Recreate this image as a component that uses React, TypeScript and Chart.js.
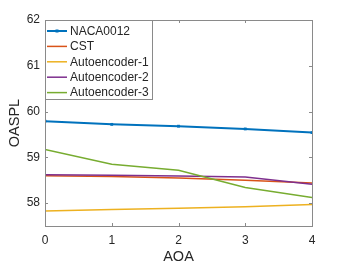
import React, { useEffect, useRef } from "react";
import { Chart, registerables } from "chart.js";

Chart.register(...registerables);

const aoa = [0, 1, 2, 3, 4];
const naca0012 = [59.79, 59.72, 59.68, 59.62, 59.54];
const cst = [58.6, 58.58, 58.55, 58.5, 58.44];
const autoencoder1 = [57.83, 57.86, 57.89, 57.92, 57.97];
const autoencoder2 = [58.62, 58.61, 58.59, 58.57, 58.41];
const autoencoder3 = [59.17, 58.85, 58.72, 58.34, 58.12];
const seriesNames = ["NACA0012", "CST", "Autoencoder-1", "Autoencoder-2", "Autoencoder-3"];
const seriesColors = ["#0072BD", "#D95319", "#EDB120", "#7E2F8E", "#77AC30"];
const yTicks = [58, 59, 60, 61, 62];
const xTicks = [0, 1, 2, 3, 4];

const FONT = "'Liberation Sans', Arial, sans-serif";
const TEXT = "#262626";
const AXIS = "#8a8a8a";

const boxPlugin = {
  id: "matlabBox",
  afterDraw(chart: any) {
    const { ctx, chartArea: a, scales } = chart;
    ctx.save();
    ctx.strokeStyle = AXIS;
    ctx.lineWidth = 1;
    ctx.strokeRect(Math.round(a.left) + 0.5, Math.round(a.top) + 0.5, Math.round(a.right - a.left), Math.round(a.bottom - a.top));
    const tl = 3;
    ctx.beginPath();
    for (const v of xTicks) {
      const x = Math.round(scales.x.getPixelForValue(v)) + 0.5;
      ctx.moveTo(x, a.bottom);
      ctx.lineTo(x, a.bottom - tl);
      ctx.moveTo(x, a.top);
      ctx.lineTo(x, a.top + tl);
    }
    for (const v of yTicks) {
      const y = Math.round(scales.y.getPixelForValue(v)) + 0.5;
      ctx.moveTo(a.left, y);
      ctx.lineTo(a.left + tl, y);
      ctx.moveTo(a.right, y);
      ctx.lineTo(a.right - tl, y);
    }
    ctx.stroke();

    // legend inside plot, top-left
    const lx = Math.round(a.left) + 0.5;
    const ly = Math.round(a.top) + 0.5;
    const lw = 107;
    const lh = 79;
    ctx.fillStyle = "#ffffff";
    ctx.fillRect(lx, ly, lw, lh);
    ctx.strokeStyle = AXIS;
    ctx.strokeRect(lx, ly, lw, lh);
    ctx.font = `12px ${FONT}`;
    ctx.textBaseline = "middle";
    ctx.textAlign = "left";
    seriesNames.forEach((name, i) => {
      const y = a.top + 11 + i * 15.4;
      ctx.strokeStyle = seriesColors[i];
      ctx.lineWidth = i === 0 ? 2 : 1.5;
      ctx.beginPath();
      ctx.moveTo(a.left + 2, y);
      ctx.lineTo(a.left + 22, y);
      ctx.stroke();
      if (i === 0) {
        ctx.fillStyle = seriesColors[0];
        ctx.fillRect(a.left + 10.5, y - 1.5, 3, 3);
      }
      ctx.fillStyle = TEXT;
      ctx.fillText(name, a.left + 25, y + 0.5);
    });
    ctx.restore();
  },
};

export default function App() {
  const ref = useRef<HTMLCanvasElement>(null);
  useEffect(() => {
    const series = [naca0012, cst, autoencoder1, autoencoder2, autoencoder3];
    const chart = new Chart(ref.current!, {
      type: "line",
      data: {
        datasets: series.map((vals, i) => ({
          label: seriesNames[i],
          data: aoa.map((x, j) => ({ x, y: vals[j] })),
          borderColor: seriesColors[i],
          backgroundColor: seriesColors[i],
          borderWidth: i === 0 ? 2 : 1.5,
          pointRadius: i === 0 ? 2 : 0,
          pointStyle: "rect",
          pointBorderWidth: 0,
          tension: 0,
          order: 5 - i,
        })),
      },
      options: {
        animation: false,
        responsive: false,
        layout: { padding: { top: 20, right: 33, left: 0, bottom: 0 } },
        plugins: { legend: { display: false }, tooltip: { enabled: false } },
        scales: {
          x: {
            type: "linear",
            min: 0,
            max: 4,
            afterBuildTicks: (s: any) => {
              s.ticks = xTicks.map((v) => ({ value: v }));
            },
            afterFit: (s: any) => {
              s.height = 41;
            },
            grid: { display: false, drawTicks: false },
            border: { display: false },
            ticks: { color: TEXT, font: { family: FONT, size: 12 }, padding: 7, maxRotation: 0 },
            title: { display: true, text: "AOA", color: TEXT, font: { family: FONT, size: 14.5 }, padding: { top: 1, bottom: 1 } },
          },
          y: {
            type: "linear",
            min: 57.5,
            max: 62,
            afterBuildTicks: (s: any) => {
              s.ticks = yTicks.map((v) => ({ value: v }));
            },
            afterFit: (s: any) => {
              s.width = 45;
            },
            grid: { display: false, drawTicks: false },
            border: { display: false },
            ticks: { color: TEXT, font: { family: FONT, size: 12 }, padding: 5 },
            title: { display: true, text: "OASPL", color: TEXT, font: { family: FONT, size: 14.5 }, padding: { top: 6, bottom: 6 } },
          },
        },
      },
      plugins: [boxPlugin],
    } as any);
    return () => chart.destroy();
  }, []);
  return (
    <div style={{ position: "fixed", left: 0, top: 0, width: 345, height: 267, background: "#fff" }}>
      <canvas ref={ref} width={345} height={267} style={{ display: "block" }} />
    </div>
  );
}
